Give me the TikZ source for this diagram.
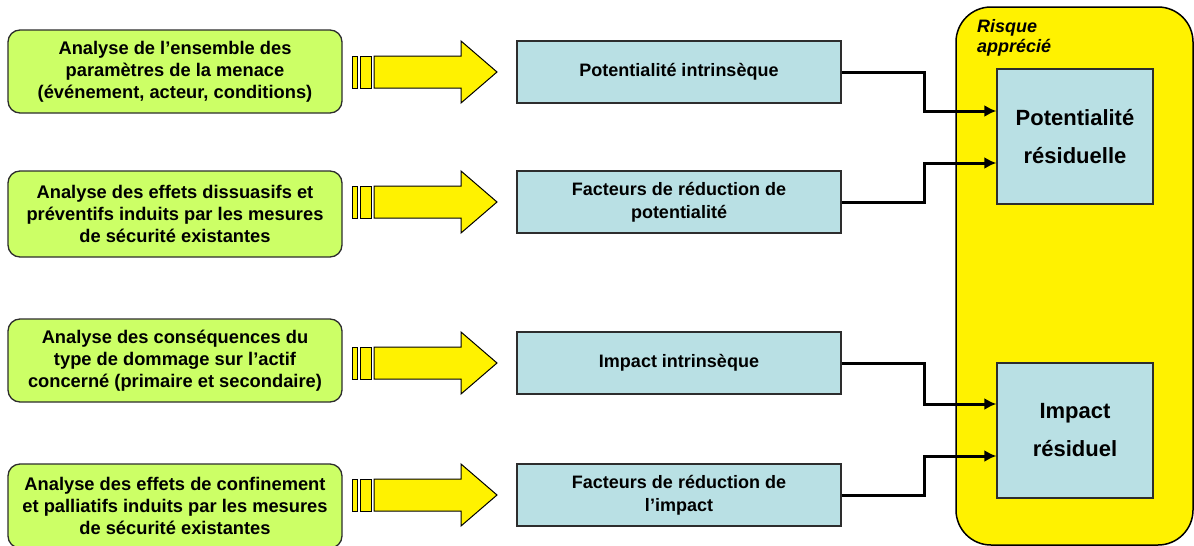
\documentclass[tikz,border=0pt]{standalone}
\usepackage{fontspec}
\setmainfont{Liberation Sans}
\usetikzlibrary{arrows.meta}
\definecolor{greenfill}{RGB}{204,255,102}
\definecolor{bluefill}{RGB}{185,224,228}
\definecolor{edgegray}{RGB}{45,45,45}
\begin{document}
\begin{tikzpicture}[x=1pt,y=-1pt,
  analysis/.style={draw=edgegray, line width=1.3pt, fill=greenfill, rounded corners=12pt,
    minimum width=334pt, align=center, inner sep=0pt,
    font=\bfseries\fontsize{18.3}{22}\selectfont},
  factor/.style={draw=edgegray, line width=1.3pt, fill=bluefill, minimum width=324pt,
    minimum height=62pt, align=center, inner sep=0pt,
    font=\bfseries\fontsize{18}{23}\selectfont},
  result/.style={draw=edgegray, line width=1.3pt, fill=bluefill, minimum width=156pt,
    minimum height=135pt, align=center, inner sep=0pt,
    font=\bfseries\fontsize{22}{38}\selectfont},
  riskbox/.style={draw=black, line width=1.5pt, fill=yellow, rounded corners=35pt,
    minimum width=237pt, minimum height=538pt, inner sep=0pt},
  fat/.style={draw=black, line width=1pt, fill=yellow},
  conn/.style={line width=3pt, -{Latex[length=12pt,width=12pt]}}
]
\useasboundingbox (0,0) rectangle (1194,546);

% big container
\node[riskbox] (risk) at (1074.5,276) {};
\node[anchor=north west, inner sep=0pt, align=left,
      font=\bfseries\itshape\fontsize{18}{20}\selectfont] (risklabel) at (977,19)
      {Risque\\apprécié};

% analysis boxes
\node[analysis, minimum height=83pt] (g1) at (175,71.5)
  {Analyse de l’ensemble des\\paramètres de la menace\\(événement, acteur, conditions)};
\node[analysis, minimum height=86pt] (g2) at (175,214)
  {Analyse des effets dissuasifs et\\préventifs induits par les mesures\\de sécurité existantes};
\node[analysis, minimum height=83pt] (g3) at (175,360.5)
  {Analyse des conséquences du\\type de dommage sur l’actif\\concerné (primaire et secondaire)};
\node[analysis, minimum height=84pt] (g4) at (175,506)
  {Analyse des effets de confinement\\et palliatifs induits par les mesures\\de sécurité existantes};

% block arrows
\foreach \y in {72,202,363,495} {
  \draw[fat] (352,\y-16) rectangle (357,\y+16);
  \draw[fat] (360,\y-16) rectangle (371,\y+16);
  \draw[fat] (374,\y-16) -- (461,\y-16) -- (461,\y-31) -- (497,\y)
     -- (461,\y+31) -- (461,\y+16) -- (374,\y+16) -- cycle;
}

% factor boxes
\node[factor] (m1) at (679,72) {Potentialité intrinsèque};
\node[factor] (m2) at (679,202) {Facteurs de réduction de\\potentialité};
\node[factor] (m3) at (679,363) {Impact intrinsèque};
\node[factor] (m4) at (679,495) {Facteurs de réduction de\\l’impact};

% result boxes
\node[result] (r1) at (1075,136.5) {Potentialité\\résiduelle};
\node[result] (r2) at (1075,430.5) {Impact\\résiduel};

% connectors
\coordinate (xm) at (924,0);
\coordinate (r1a) at (r1.west |- 0,111);
\coordinate (r1b) at (r1.west |- 0,163);
\coordinate (r2a) at (r2.west |- 0,404);
\coordinate (r2b) at (r2.west |- 0,456);
\draw[conn] (m1.east) -- (m1.east -| xm) |- (r1a);
\draw[conn] (m2.east) -- (m2.east -| xm) |- (r1b);
\draw[conn] (m3.east) -- (m3.east -| xm) |- (r2a);
\draw[conn] (m4.east) -- (m4.east -| xm) |- (r2b);
\end{tikzpicture}
\end{document}
